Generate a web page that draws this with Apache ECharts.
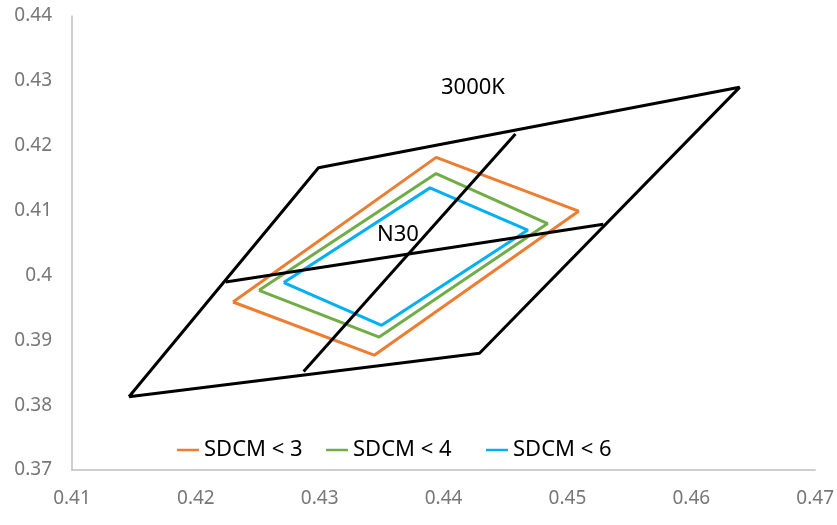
<!DOCTYPE html>
<html>
<head>
<meta charset="utf-8">
<script src="https://cdn.jsdelivr.net/npm/echarts@6/dist/echarts.min.js"></script>
<style>
html,body{margin:0;padding:0;background:#fff;}
#chart{width:837px;height:525px;}
</style>
</head>
<body>
<div id="chart"></div>
<script>
// Data (x, y chromaticity)
const outerBox = [[0.4146,0.3813],[0.4299,0.4166],[0.4639,0.4290],[0.4429,0.3880],[0.4146,0.3813]];
const midLineA = [[0.4224,0.3990],[0.4529,0.4079]];
const midLineB = [[0.4287,0.3852],[0.4458,0.4218]];
const sdcm3 = [[0.4230,0.3959],[0.4344,0.3877],[0.4509,0.4099],[0.4394,0.4182],[0.4230,0.3959]];
const sdcm4 = [[0.4251,0.3977],[0.4348,0.3905],[0.4484,0.4080],[0.4394,0.4157],[0.4251,0.3977]];
const sdcm6 = [[0.4271,0.3989],[0.4350,0.3923],[0.4468,0.4070],[0.4389,0.4135],[0.4271,0.3989]];
const seriesNames = ['SDCM < 3','SDCM < 4','SDCM < 6'];
const seriesColors = ['#ED7D31','#70AD47','#00B0F0'];
const xTicks = {min:0.41, max:0.47, step:0.01};
const yTicks = {min:0.37, max:0.44, step:0.01};
const annotations = ['3000K','N30'];

const font = '"Noto Sans", sans-serif';
const chart = echarts.init(document.getElementById('chart'));

function lineSeries(name, data, color, w){
  return {
    name: name, type:'line', data:data, showSymbol:false, symbol:'none',
    lineStyle:{color:color, width:w}, itemStyle:{color:color},
    animation:false, silent:true
  };
}

const fmt = v => String(+(+v).toFixed(2));
const legendLefts = [172, 321, 481];

chart.setOption({
  animation:false,
  grid:{left:72, right:21, top:16, bottom:55, containLabel:false},
  xAxis:{
    type:'value', min:xTicks.min, max:xTicks.max, interval:xTicks.step,
    axisLine:{show:true, lineStyle:{color:'#BFBFBF', width:1.5}},
    axisTick:{show:false}, splitLine:{show:false},
    axisLabel:{color:'#777777', fontFamily:font, fontSize:19, margin:19, formatter:fmt}
  },
  yAxis:{
    type:'value', min:yTicks.min, max:yTicks.max, interval:yTicks.step,
    axisLine:{show:true, lineStyle:{color:'#BFBFBF', width:1.5}},
    axisTick:{show:false}, splitLine:{show:false},
    axisLabel:{color:'#777777', fontFamily:font, fontSize:19, margin:20, formatter:fmt}
  },
  legend: seriesNames.map((n, i) => ({
    data:[n], left:legendLefts[i], top:434, icon:'rect', itemWidth:22, itemHeight:2.5,
    textStyle:{color:'#000', fontFamily:font, fontSize:22}
  })),
  graphic:[
    {type:'text', left:441, top:77, style:{text:annotations[0], fill:'#000', font:'22px "Noto Sans"'}},
    {type:'text', left:377, top:224, style:{text:annotations[1], fill:'#000', font:'22px "Noto Sans"'}}
  ],
  series:[
    lineSeries(seriesNames[0], sdcm3, seriesColors[0], 3),
    lineSeries(seriesNames[1], sdcm4, seriesColors[1], 3),
    lineSeries(seriesNames[2], sdcm6, seriesColors[2], 3),
    lineSeries('3000K box', outerBox, '#000000', 3),
    lineSeries('3000K a', midLineA, '#000000', 3),
    lineSeries('3000K b', midLineB, '#000000', 3)
  ]
});
</script>
</body>
</html>
